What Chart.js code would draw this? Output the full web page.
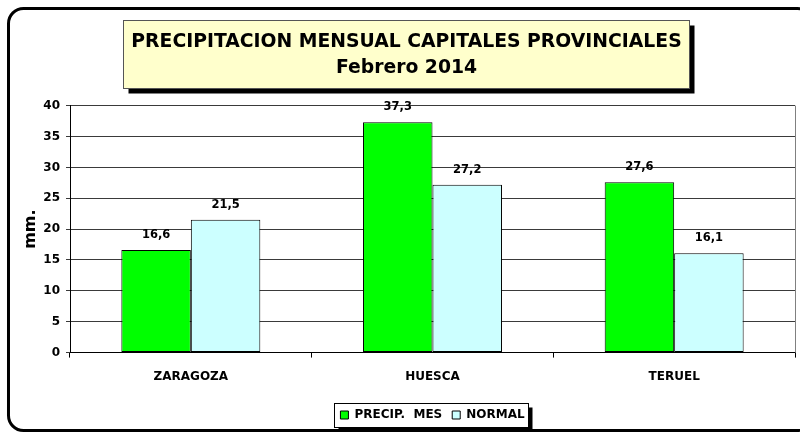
<!DOCTYPE html>
<html><head><meta charset="utf-8">
<script src="https://cdn.jsdelivr.net/npm/chart.js@4/dist/chart.umd.min.js"></script>
<style>html,body{margin:0;padding:0;background:#fff}#wrap{width:800px;height:433px}</style>
</head><body><div id="wrap"><canvas id="c" width="800" height="433"></canvas></div>
<script>
const categories = ['ZARAGOZA', 'HUESCA', 'TERUEL'];
const precipMes = [16.6, 37.3, 27.6];
const normal = [21.5, 27.2, 16.1];
const seriesNames = ['PRECIP.  MES', 'NORMAL'];
const titleLines = ['PRECIPITACION MENSUAL CAPITALES PROVINCIALES', 'Febrero 2014'];
const yAxisTitle = 'mm.';
const yMin = 0, yMax = 40, yStep = 5;

const FONT = 'DejaVu Sans';

function fmt(v) { return v.toFixed(1).replace('.', ','); }

const decor = {
  id: 'decor',
  beforeDraw(chart) {
    const ctx = chart.ctx;
    ctx.save();
    // outer rounded frame
    ctx.lineWidth = 3;
    ctx.strokeStyle = '#000';
    ctx.beginPath();
    ctx.roundRect(8.5, 8.5, 804, 422, 15);
    ctx.stroke();

    // title box
    const tb = chart.titleBlock;
    const to = chart.options.plugins.title;
    ctx.font = 'bold ' + to.font.size + 'px ' + FONT;
    let w = 0;
    titleLines.forEach(t => { w = Math.max(w, ctx.measureText(t).width); });
    const cx = (tb.left + tb.right) / 2;
    const bx = Math.round(cx - w / 2 - 8) + 0.5;
    const bw = Math.round(w + 16);
    const by = tb.top + to.padding.top - 9 + 0.5;
    const bh = 68;
    ctx.fillStyle = '#000';
    ctx.fillRect(bx + 5, by + 5, bw, bh);
    ctx.fillStyle = '#ffffcc';
    ctx.fillRect(bx, by, bw, bh);
    ctx.lineWidth = 1;
    ctx.strokeStyle = '#555';
    ctx.strokeRect(bx, by, bw, bh);

    // legend box
    const hb = chart.legend.legendHitBoxes;
    if (hb && hb.length) {
      let l = Infinity, r = -Infinity, t = Infinity, b = -Infinity;
      hb.forEach(h => { l = Math.min(l, h.left); r = Math.max(r, h.left + h.width); t = Math.min(t, h.top); b = Math.max(b, h.top + h.height); });
      const lx = Math.round(l - 6) + 0.5, ly = Math.round(t - 6) + 0.5;
      const lw = Math.round(r - l + 10), lh = Math.round(b - t + 12);
      ctx.fillStyle = '#000';
      ctx.fillRect(lx + 4, ly + 4, lw, lh);
      ctx.fillStyle = '#fff';
      ctx.fillRect(lx, ly, lw, lh);
      ctx.strokeStyle = '#000';
      ctx.strokeRect(lx, ly, lw, lh);
    }
    ctx.restore();
  },
  afterDatasetsDraw(chart) {
    const ctx = chart.ctx;
    const a = chart.chartArea;
    ctx.save();
    // plot area right border
    ctx.strokeStyle = '#808080';
    ctx.lineWidth = 1;
    ctx.beginPath();
    ctx.moveTo(Math.round(a.right) + 0.5, a.top);
    ctx.lineTo(Math.round(a.right) + 0.5, a.bottom);
    ctx.stroke();
    // data labels
    ctx.fillStyle = '#000';
    ctx.font = 'bold 11.5px ' + FONT;
    ctx.textAlign = 'center';
    ctx.textBaseline = 'middle';
    chart.data.datasets.forEach((ds, i) => {
      const meta = chart.getDatasetMeta(i);
      meta.data.forEach((bar, j) => {
        ctx.fillText(fmt(ds.data[j]), bar.x, bar.y - 15);
      });
    });
    ctx.restore();
  }
};

new Chart(document.getElementById('c'), {
  type: 'bar',
  data: {
    labels: categories,
    datasets: [
      { label: seriesNames[0], data: precipMes, backgroundColor: '#00ff00', borderColor: '#000', borderWidth: 1, borderSkipped: false },
      { label: seriesNames[1], data: normal, backgroundColor: '#ccffff', borderColor: '#000', borderWidth: 1, borderSkipped: false }
    ]
  },
  options: {
    responsive: false,
    animation: false,
    devicePixelRatio: 1,
    categoryPercentage: 0.575,
    barPercentage: 1.0,
    layout: { padding: { left: 18, right: 5, top: 0, bottom: 2 } },
    plugins: {
      title: {
        display: true,
        text: titleLines,
        color: '#000',
        font: { family: FONT, weight: 'bold', size: 18.8, lineHeight: 1.4 },
        padding: { top: 29, bottom: 24 }
      },
      legend: {
        display: true,
        position: 'bottom',
        fullSize: false,
        labels: {
          color: '#000',
          font: { family: FONT, weight: 'bold', size: 12 },
          boxWidth: 8, boxHeight: 8,
          padding: 10,
          generateLabels(chart) {
            return chart.data.datasets.map((ds, i) => ({
              text: ds.label, fillStyle: ds.backgroundColor, strokeStyle: '#000', lineWidth: 1, datasetIndex: i, hidden: false
            }));
          }
        }
      },
      tooltip: { enabled: false }
    },
    scales: {
      x: {
        afterFit(scale) { scale.height = scale.height + 3; },
        grid: { display: true, drawOnChartArea: false, drawTicks: true, tickLength: 5, color: '#000', offset: true },
        border: { display: true, color: '#000', width: 1 },
        ticks: { color: '#000', font: { family: FONT, weight: 'bold', size: 12 }, padding: 12 }
      },
      y: {
        min: yMin, max: yMax,
        afterFit(scale) { scale.width = 52; },
        ticks: { stepSize: yStep, color: '#000', font: { family: FONT, weight: 'bold', size: 12 }, padding: 6 },
        grid: { color: '#3a3a3a', tickLength: 4, drawTicks: true },
        border: { display: true, color: '#000', width: 1 },
        title: { display: true, text: yAxisTitle, color: '#000', font: { family: FONT, weight: 'bold', size: 16 }, padding: { top: 3, bottom: 0 } }
      }
    }
  },
  plugins: [decor]
});
</script></body></html>
